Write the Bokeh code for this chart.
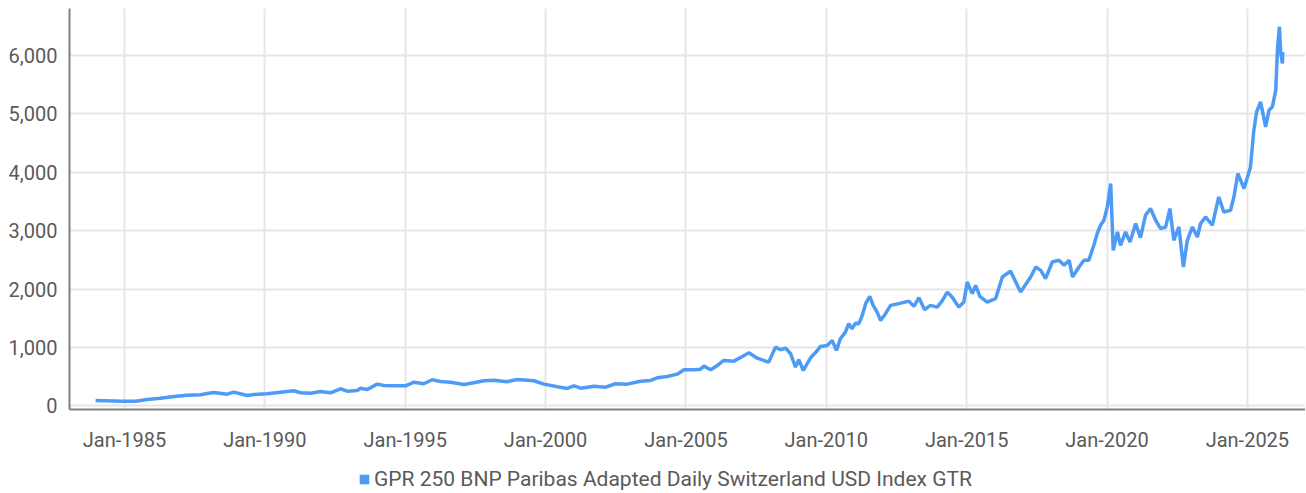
from bokeh.plotting import figure
from bokeh.layouts import column
from bokeh.models import Range1d, FixedTicker, NumeralTickFormatter, Legend, LegendItem, ColumnDataSource
from bokeh.embed import file_html
from bokeh.resources import INLINE

# decimal year, index level
years = [
    1983.97, 1984.98, 1985.39, 1985.81, 1986.28, 1986.76, 1987.23, 1987.71, 1987.95, 1988.18,
    1988.66, 1988.89, 1989.37, 1989.61, 1990.08, 1990.56, 1991.03, 1991.27, 1991.63, 1991.98,
    1992.34, 1992.69, 1992.93, 1993.29, 1993.41, 1993.65, 1994.00, 1994.24, 1994.59, 1995.01,
    1995.19, 1995.31, 1995.66, 1995.96, 1996.26, 1996.61, 1997.09, 1997.44, 1997.80, 1998.16,
    1998.63, 1998.99, 1999.58, 1999.94, 2000.42, 2000.77, 2001.01, 2001.25, 2001.72, 2002.14,
    2002.49, 2002.91, 2003.38, 2003.74, 2003.98, 2004.33, 2004.69, 2004.93, 2005.28, 2005.52,
    2005.64, 2005.88, 2006.12, 2006.35, 2006.71, 2007.01, 2007.24, 2007.54, 2007.95, 2008.19,
    2008.37, 2008.55, 2008.73, 2008.90, 2009.02, 2009.18, 2009.44, 2009.68, 2009.79, 2010.03,
    2010.21, 2010.36, 2010.50, 2010.68, 2010.80, 2010.92, 2011.04, 2011.16, 2011.28, 2011.40,
    2011.55, 2011.67, 2011.81, 2011.93, 2012.11, 2012.29, 2012.58, 2012.94, 2013.12, 2013.30,
    2013.50, 2013.71, 2013.95, 2014.12, 2014.31, 2014.48, 2014.72, 2014.90, 2015.02, 2015.20,
    2015.32, 2015.47, 2015.73, 2016.03, 2016.27, 2016.56, 2016.92, 2017.28, 2017.46, 2017.64,
    2017.81, 2018.05, 2018.29, 2018.47, 2018.65, 2018.77, 2019.00, 2019.18, 2019.35, 2019.53,
    2019.65, 2019.77, 2019.89, 2020.01, 2020.13, 2020.22, 2020.37, 2020.48, 2020.66, 2020.82,
    2021.02, 2021.19, 2021.37, 2021.55, 2021.73, 2021.91, 2022.09, 2022.24, 2022.38, 2022.56,
    2022.72, 2022.86, 2023.04, 2023.22, 2023.33, 2023.51, 2023.75, 2023.98, 2024.16, 2024.40,
    2024.52, 2024.66, 2024.88, 2025.11, 2025.23, 2025.33, 2025.47, 2025.65, 2025.77, 2025.89,
    2026.01, 2026.07, 2026.14, 2026.19, 2026.25, 2026.26,
]
values = [
    95, 80, 82, 111, 134, 163, 185, 192, 214, 231,
    202, 237, 180, 197, 209, 237, 261, 226, 219, 249,
    226, 295, 254, 266, 305, 283, 374, 351, 346, 346,
    381, 408, 381, 449, 420, 408, 369, 398, 432, 442,
    415, 454, 432, 374, 329, 300, 346, 305, 339, 322,
    381, 374, 425, 437, 483, 506, 545, 620, 620, 631,
    682, 620, 694, 780, 768, 848, 912, 819, 751, 1008,
    963, 991, 895, 665, 792, 608, 826, 951, 1020, 1037,
    1123, 951, 1152, 1265, 1409, 1323, 1419, 1409, 1551, 1752,
    1877, 1723, 1608, 1465, 1580, 1723, 1752, 1796, 1705, 1854,
    1649, 1723, 1693, 1796, 1950, 1865, 1693, 1779, 2122, 1923,
    2065, 1877, 1779, 1837, 2208, 2310, 1951, 2208, 2379, 2322,
    2180, 2465, 2494, 2408, 2494, 2208, 2379, 2494, 2494, 2751,
    2951, 3094, 3180, 3408, 3809, 2665, 2980, 2751, 2980, 2808,
    3123, 2883, 3265, 3380, 3180, 3037, 3065, 3380, 2837, 3065,
    2379, 2837, 3065, 2893, 3123, 3236, 3094, 3579, 3322, 3351,
    3579, 3980, 3723, 4093, 4722, 5036, 5207, 4779, 5065, 5121,
    5408, 6094, 6493, 6037, 5865, 6060,
]

series_name = "GPR 250 BNP Paribas Adapted Daily Switzerland USD Index GTR"
x_ticks = [1985, 1990, 1995, 2000, 2005, 2010, 2015, 2020, 2025]
x_tick_labels = ["Jan-1985", "Jan-1990", "Jan-1995", "Jan-2000", "Jan-2005",
                 "Jan-2010", "Jan-2015", "Jan-2020", "Jan-2025"]
y_ticks = [0, 1000, 2000, 3000, 4000, 5000, 6000]

LINE = "#4d9bf7"
TXT = "#5a5a5a"
FONT = "Roboto"

p = figure(width=1305, height=455, output_backend="svg", toolbar_location=None,
           x_range=Range1d(1983.04, 2027.07), y_range=Range1d(-60, 6805),
           min_border_left=69, min_border_right=0, min_border_top=8, min_border_bottom=46)
p.outline_line_color = None
p.background_fill_color = "white"

src = ColumnDataSource(dict(x=years, y=values))
p.line("x", "y", source=src, line_color=LINE, line_width=3.5)

for ax in (p.xaxis[0], p.yaxis[0]):
    ax.axis_line_color = "#808080"
    ax.axis_line_width = 2
    ax.major_tick_line_color = None
    ax.minor_tick_line_color = None
    ax.major_label_text_font = FONT
    ax.major_label_text_font_size = "20px"
    ax.major_label_text_color = TXT

p.xaxis[0].ticker = FixedTicker(ticks=x_ticks)
p.xaxis[0].major_label_overrides = {t: l for t, l in zip(x_ticks, x_tick_labels)}
p.xaxis[0].major_label_standoff = 12
p.yaxis[0].ticker = FixedTicker(ticks=y_ticks)
p.yaxis[0].formatter = NumeralTickFormatter(format="0,0")
p.yaxis[0].major_label_standoff = 6

p.xgrid.grid_line_color = "#e6e6e6"
p.xgrid.grid_line_width = 2
p.ygrid.grid_line_color = "#e6e6e6"
p.ygrid.grid_line_width = 2

# legend strip below the chart
lg = figure(width=1305, height=38, output_backend="svg", toolbar_location=None,
            x_range=Range1d(0, 1), y_range=Range1d(0, 1),
            min_border_left=0, min_border_right=0, min_border_top=0, min_border_bottom=0)
lg.axis.visible = False
lg.grid.visible = False
lg.outline_line_color = None
# zero-size swatch renderer that only serves the legend entry
sw = lg.quad(left=[0], right=[0], top=[0], bottom=[0], fill_color=LINE, line_color=None)
legend = Legend(items=[LegendItem(label=series_name, renderers=[sw])],
                orientation="horizontal", location=(289, 2),
                border_line_color=None, background_fill_alpha=0,
                glyph_width=12, glyph_height=12, label_standoff=4,
                label_text_font=FONT, label_text_font_size="21px",
                label_text_color=TXT, padding=0, margin=0, spacing=0)
lg.add_layout(legend, "center")

layout = column(p, lg, spacing=0)
open("out.html", "w").write(file_html(layout, INLINE))
